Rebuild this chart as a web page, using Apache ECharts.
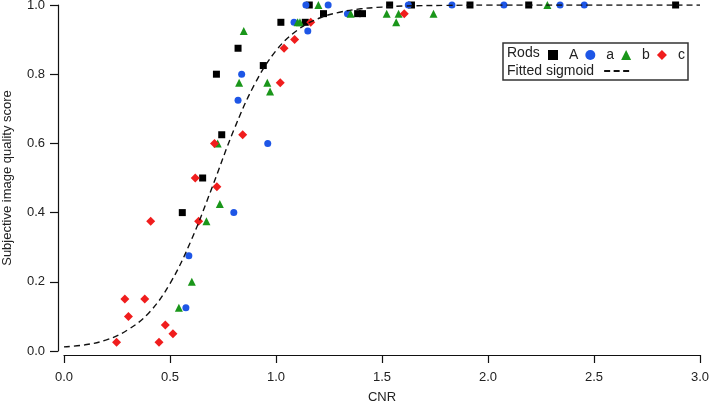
<!DOCTYPE html>
<html>
<head>
<meta charset="utf-8">
<script src="https://cdn.jsdelivr.net/npm/echarts@6/dist/echarts.min.js"></script>
<style>
  html, body { margin: 0; padding: 0; background: #fff; }
  #chart { width: 709px; height: 404px; }
</style>
</head>
<body>
<div id="chart"></div>
<script>
// [CNR, score] pairs
const rodsA = [
  [0.558, 0.4], [0.654, 0.5], [0.744, 0.625], [0.719, 0.8], [0.821, 0.875],
  [0.94, 0.825], [1.023, 0.95], [1.138, 0.95], [1.157, 1.0], [1.224, 0.975],
  [1.385, 0.975], [1.408, 0.975], [1.536, 1.0], [1.639, 1.0], [1.915, 1.0],
  [2.192, 1.0], [2.885, 1.0]
];
const rodsLowA = [
  [0.575, 0.125], [0.589, 0.275], [0.801, 0.4], [0.961, 0.6], [0.821, 0.725],
  [0.838, 0.8], [1.085, 0.95], [1.15, 0.925], [1.141, 1.0], [1.246, 1.0],
  [1.337, 0.975], [1.624, 1.0], [1.83, 1.0], [2.075, 1.0], [2.34, 1.0],
  [2.454, 1.0]
];
const rodsB = [
  [0.542, 0.125], [0.603, 0.2], [0.672, 0.375], [0.725, 0.6], [0.735, 0.425],
  [0.826, 0.775], [0.848, 0.925], [0.959, 0.775], [0.972, 0.75], [1.102, 0.95],
  [1.113, 0.95], [1.2, 1.0], [1.352, 0.975], [1.522, 0.975], [1.567, 0.95],
  [1.578, 0.975], [1.743, 0.975], [2.28, 1.0]
];
const rodsC = [
  [0.248, 0.025], [0.287, 0.15], [0.304, 0.1], [0.381, 0.15], [0.409, 0.375],
  [0.448, 0.025], [0.478, 0.075], [0.514, 0.05], [0.619, 0.5], [0.635, 0.375],
  [0.71, 0.6], [0.721, 0.475], [0.843, 0.625], [1.02, 0.775], [1.038, 0.875],
  [1.088, 0.9], [1.164, 0.95], [1.605, 0.975]
];
// dashed fitted curve
const sigmoidX = [0, 0.1, 0.2, 0.3, 0.4, 0.5, 0.6, 0.7, 0.8, 0.9, 1.0, 1.1, 1.2, 1.3, 1.4, 1.5, 1.6, 1.8, 2.0, 2.5, 3.0];
const sigmoidY = [0.012, 0.018, 0.032, 0.061, 0.11, 0.195, 0.32, 0.475, 0.637, 0.772, 0.868, 0.927, 0.961, 0.979, 0.989, 0.994, 0.997, 0.999, 1.0, 1.0, 1.0];

const font = 'Liberation Sans, Arial, sans-serif';
const textColor = '#222';

var chart = echarts.init(document.getElementById('chart'));
chart.setOption({
  animation: false,
  textStyle: { fontFamily: font },
  grid: { left: 64, right: 9, top: 5, bottom: 53, outerBoundsMode: 'none', containLabel: false },
  xAxis: {
    type: 'value', min: 0, max: 3, interval: 0.5, offset: 4,
    name: 'CNR', nameLocation: 'middle', nameGap: 36,
    nameTextStyle: { fontSize: 13, color: textColor, fontFamily: font },
    splitLine: { show: false },
    axisLine: { onZero: false, lineStyle: { color: '#111', width: 1.2 } },
    axisTick: { length: 8, lineStyle: { color: '#111', width: 1.2 } },
    axisLabel: { margin: 16, fontSize: 13, color: textColor, fontFamily: font, formatter: v => v.toFixed(1) }
  },
  yAxis: {
    type: 'value', min: 0, max: 1, interval: 0.2, offset: 6,
    name: 'Subjective image quality score', nameLocation: 'middle', nameGap: 44,
    nameTextStyle: { fontSize: 13, color: textColor, fontFamily: font },
    splitLine: { show: false },
    axisLine: { show: true, onZero: false, lineStyle: { color: '#111', width: 1.2 } },
    axisTick: { show: true, length: 8, lineStyle: { color: '#111', width: 1.2 } },
    axisLabel: { margin: 13, fontSize: 13, color: textColor, fontFamily: font, formatter: v => v.toFixed(1) }
  },
  legend: [
    {
      data: ['A', 'a', 'b', 'c'], left: 548, top: 48, padding: 0,
      itemWidth: 10, itemHeight: 10, itemGap: 7, selectedMode: false,
      textStyle: { fontSize: 14, color: textColor, fontFamily: font, padding: [0, 0, 0, 6] }
    },
    {
      data: [{ name: 'Fitted sigmoid', icon: 'path://M0,4h6v2h-6z M9.5,4h6v2h-6z M19,4h6v2h-6z' }],
      left: 507, top: 64, padding: 0, align: 'right',
      itemWidth: 25, itemHeight: 10, selectedMode: false,
      textStyle: { fontSize: 14, color: textColor, fontFamily: font, padding: [0, 5, 0, 0] }
    }
  ],
  graphic: [
    { type: 'rect', shape: { x: 503, y: 43, width: 185, height: 37 },
      style: { fill: '#fff', stroke: '#333', lineWidth: 1.5 }, z: -1 },
    { type: 'text', left: 507, top: 46,
      style: { text: 'Rods', fontSize: 14, fill: textColor, fontFamily: font } }
  ],
  series: [
    { name: 'A', type: 'scatter', symbol: 'rect', symbolSize: 7, data: rodsA,
      itemStyle: { color: '#000', opacity: 1 } },
    { name: 'a', type: 'scatter', symbol: 'circle', symbolSize: 7, data: rodsLowA,
      itemStyle: { color: '#1e56e6', opacity: 1 } },
    { name: 'b', type: 'scatter', symbol: 'triangle', symbolSize: 8, data: rodsB,
      itemStyle: { color: '#1a961a', opacity: 1 } },
    { name: 'c', type: 'scatter', symbol: 'diamond', symbolSize: 9, data: rodsC,
      itemStyle: { color: '#f01d1d', opacity: 1 } },
    { name: 'Fitted sigmoid', type: 'line', smooth: 0.4, showSymbol: false, symbol: 'none',
      data: sigmoidX.map((x, i) => [x, sigmoidY[i]]),
      itemStyle: { color: '#111' },
      lineStyle: { color: '#111', width: 1.4, type: [6, 4] }, z: 3 }
  ]
});
</script>
</body>
</html>
